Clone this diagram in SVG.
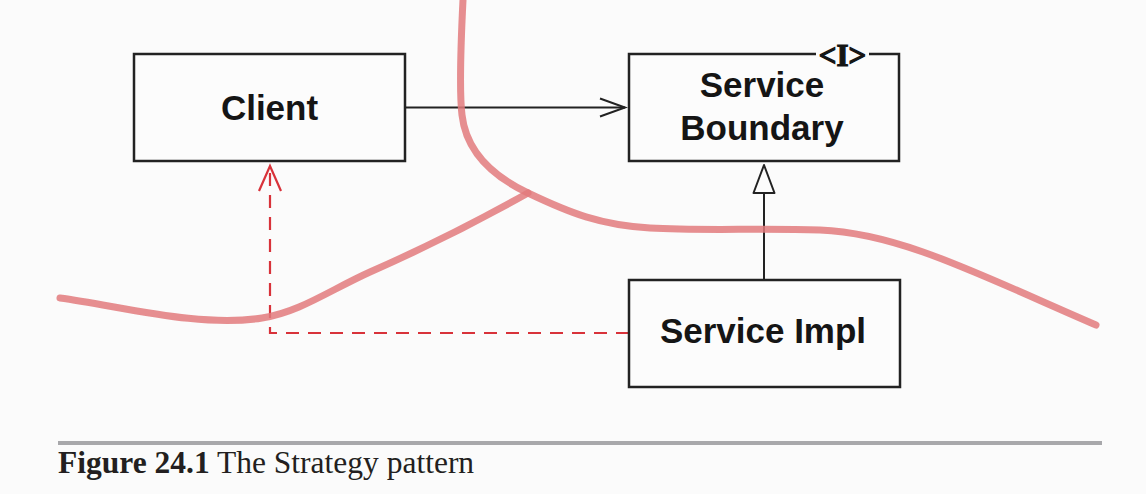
<svg xmlns="http://www.w3.org/2000/svg" width="1146" height="494" viewBox="0 0 1146 494">
<defs>
<style>
.box{fill:#fcfcfc;stroke:#222;stroke-width:2.5}
.lbl{font-family:"Liberation Sans",Arial,sans-serif;font-weight:bold;font-size:35px;fill:#151515;text-anchor:middle}
.red{fill:none;stroke:#e27a7d;stroke-opacity:0.85;stroke-width:7;stroke-linecap:round;stroke-linejoin:round}
.dash{fill:none;stroke:#d8323a;stroke-width:2.2;stroke-dasharray:13 9}
.blk{fill:none;stroke:#222;stroke-width:2}
.cap{font-family:"Liberation Serif","Times New Roman",serif;font-size:31.5px;fill:#231f20}
</style>
</defs>
<rect width="1146" height="494" fill="#fbfbfb"/>
<g id="connectors">
<path class="blk" d="M405,107.5 H625"/>
<path class="blk" d="M600,98.5 L625,107.5 L600,116.5"/>
<path class="blk" d="M764,280 V193"/>
<path d="M764,165 L774.5,193 H753.5 Z" fill="#fcfcfc" stroke="#222" stroke-width="2" stroke-linejoin="round"/>
<path class="dash" d="M629,333 H270 V168"/>
<path d="M259,191 L270,166 L281,191" fill="none" stroke="#d8323a" stroke-width="2.2"/>
</g>
<g id="client">
<rect class="box" x="134" y="54" width="271" height="107"/>
<text class="lbl" x="269.5" y="120">Client</text>
</g>
<g id="service-boundary">
<rect class="box" x="629" y="54" width="270" height="107"/>
<rect x="816" y="50" width="53" height="8" fill="#fbfbfb"/>
<text x="842.5" y="66" font-family="Liberation Serif,serif" font-weight="bold" font-size="31" fill="#151515" stroke="#151515" stroke-width="1.2" text-anchor="middle">&lt;I&gt;</text>
<text class="lbl" x="762" y="97">Service</text>
<text class="lbl" x="762" y="140">Boundary</text>
</g>
<g id="service-impl">
<rect class="box" x="629" y="280" width="271" height="107"/>
<text class="lbl" x="763" y="343">Service Impl</text>
</g>
<g id="boundary-curves">
<path class="red" d="M463,0 C461,40 459,90 462,115 C466,150 490,175 528,193 C570,213 600,225 650,228 C700,231 760,228 820,230 C900,233 980,275 1096,325"/>
<path class="red" d="M60,298 C120,306 200,328 262,318 C300,312 330,290 370,272 C420,250 480,220 528,193"/>
</g>
<rect x="58" y="441" width="1044" height="4" fill="#a8a8ab"/>
<text class="cap" x="58" y="473"><tspan font-weight="bold">Figure 24.1</tspan> The Strategy pattern</text>
</svg>
